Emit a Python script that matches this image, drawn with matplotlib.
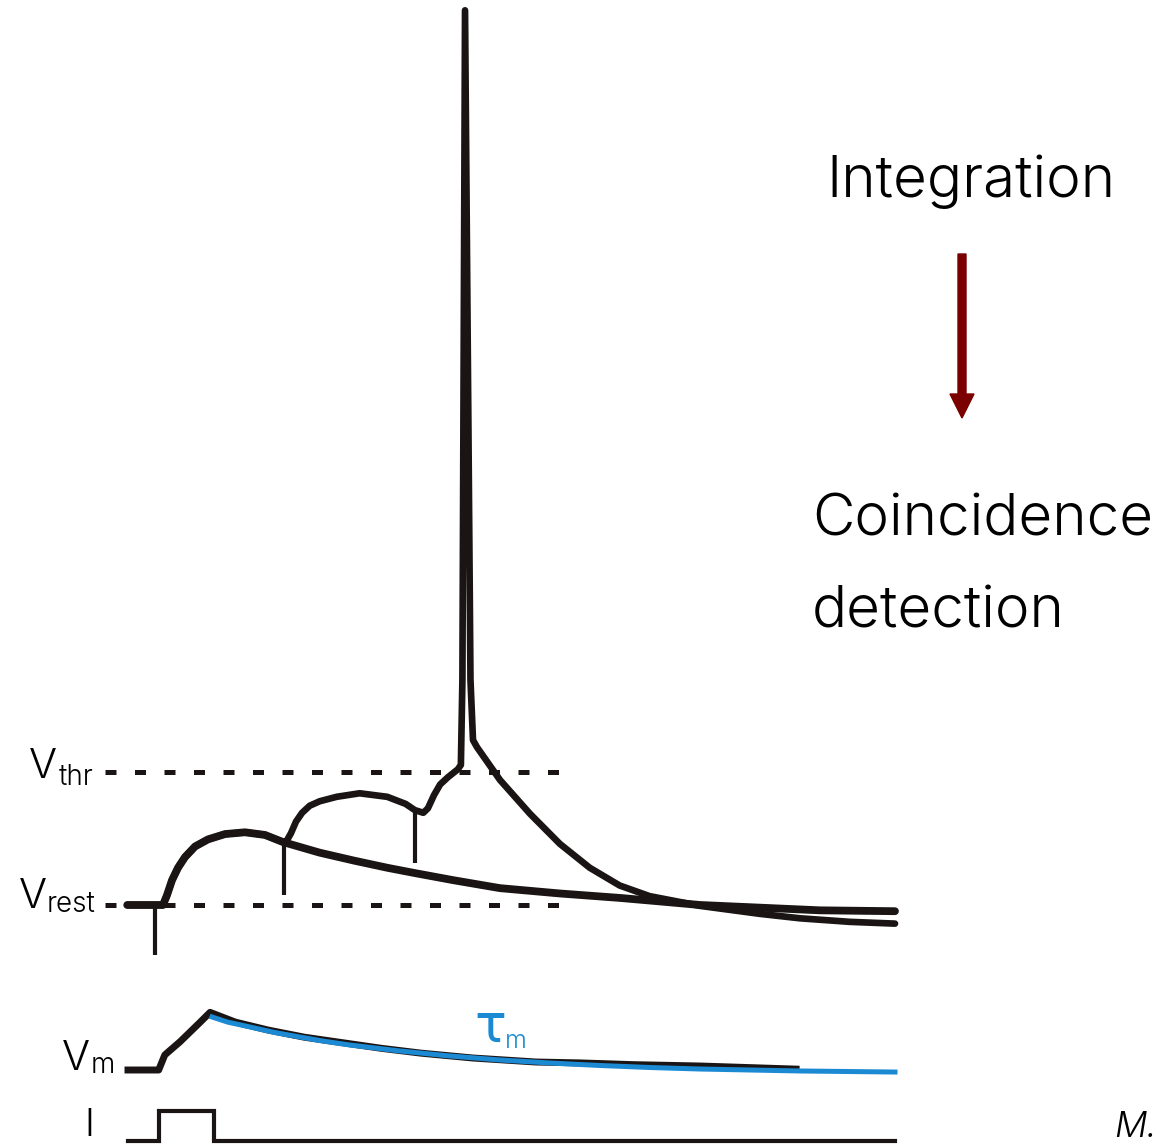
import numpy as np
import matplotlib
matplotlib.use("Agg")
import matplotlib.pyplot as plt

W, H = 1164, 1144

# time axis in ms, voltages in mV
# single EPSP trace
epsp_t = [-0.1, 3.3, 3.5, 3.8, 4.56, 5.08, 5.74, 6.52, 7.43, 8.74, 10.43, 12.65, 15.25,
          17.86, 20.2, 25.0, 29.5, 33.8, 37.4, 42.4, 48.5, 56.3, 64.1, 69.4, 74.6, 82.4,
          90.2, 100.0]
epsp_v = [-70.0, -70.0, -70.0, -70.0, -70.0, -68.9, -67.2, -65.8, -64.6, -63.4, -62.6,
          -62.0, -61.8, -62.1, -62.9, -64.1, -65.0, -65.8, -66.4, -67.2, -68.1, -68.7,
          -69.2, -69.6, -70.0, -70.3, -70.6, -70.7]

# trace with three coincident inputs -> spike
spike_t = [-0.1, 3.5, 4.56, 5.08, 5.74, 6.52, 7.43, 8.74, 10.43, 12.65, 15.25, 17.86,
           20.2, 20.6, 21.25, 21.9, 22.7, 23.7, 25.0, 27.2, 30.2, 33.8, 36.2, 37.4, 38.5,
           39.1, 39.9, 40.7, 41.7, 43.0, 43.4, 43.6, 43.94, 44.65, 44.98, 45.5, 48.5,
           52.4, 56.3, 60.2, 64.1, 68.0, 74.6, 82.4, 87.6, 94.1, 100.0]
spike_v = [-70.0, -70.0, -70.0, -68.9, -67.2, -65.8, -64.6, -63.4, -62.6, -62.0, -61.8,
           -62.1, -62.9, -62.9, -61.9, -60.6, -59.6, -58.8, -58.3, -57.8, -57.4, -57.8,
           -58.6, -59.3, -59.6, -59.1, -57.6, -56.4, -55.6, -54.7, -54.2, -44.6, 30.9,
           -44.6, -51.4, -52.2, -55.9, -59.7, -63.1, -65.8, -67.8, -69.0, -70.1, -71.0,
           -71.5, -71.9, -72.1]

# stimulus artifacts
stim_t = [3.5, 20.3, 37.4]
stim_top = [-70.0, -62.9, -59.6]
stim_bottom = [-75.6, -68.9, -65.3]

v_rest = -70.0
v_thr = -55.0
ref_t = [-3.0, 57.0]

# passive response to a current step (mV relative to rest)
vm_t = [0.0, 4.0, 4.8, 6.8, 9.3, 10.7, 14.0, 18.3, 23.0, 28.2, 33.0, 38.2, 45.0, 53.2,
        58.9, 66.0, 74.6, 87.1]
vm_v = [0.0, 0.0, 1.7, 3.2, 5.3, 6.5, 5.4, 4.5, 3.7, 3.05, 2.45, 1.9, 1.35, 0.9, 0.8,
        0.6, 0.45, 0.1]
fit_t = [10.95, 13.0, 15.9, 19.0, 22.4, 25.5, 28.9, 35.5, 42.0, 48.5, 55.0, 61.5, 68.1,
         74.6, 81.1, 87.6, 100.0]
fit_v = [5.98, 5.4, 4.85, 4.25, 3.72, 3.25, 2.82, 2.14, 1.58, 1.13, 0.79, 0.51, 0.28,
         0.11, 0.0, -0.11, -0.23]

# injected current (nA)
i_t = [0.0, 4.0, 11.2, 100.0]
i_amp = [0.0, 1.0, 0.0, 0.0]

BLACK = "#1a1414"
BLUE = "#1b8ad3"
RED = "#7b0000"

fig = plt.figure(figsize=(W / 100, H / 100), dpi=100)

# px <-> data scales
xlim = (-128 / 7.67, (W - 128) / 7.67)


def full_axes(ylim):
    ax = fig.add_axes([0, 0, 1, 1])
    ax.set_xlim(*xlim)
    ax.set_ylim(*ylim)
    ax.axis("off")
    ax.patch.set_alpha(0)
    return ax


ax_v = full_axes((-70 - (H - 905) / 8.867, -70 + 905 / 8.867))
ax_m = full_axes(((1070 - H) / 8.867, 1070 / 8.867))
ax_i = full_axes(((1141 - H) / 30, 1141 / 30))

# reference levels
for lvl in (v_thr, v_rest):
    ax_v.plot(ref_t, [lvl, lvl], color=BLACK, lw=3.6, dashes=(2.2, 3.7),
              dash_capstyle="butt", zorder=1)

ax_v.vlines(stim_t, stim_bottom, stim_top, color=BLACK, lw=3.0, zorder=2)
ax_v.plot(epsp_t, epsp_v, color=BLACK, lw=5.6, solid_joinstyle="round",
          solid_capstyle="round", zorder=3)
ax_v.plot(spike_t, spike_v, color=BLACK, lw=4.8, solid_joinstyle="round",
          solid_capstyle="round", zorder=3)

ax_m.plot(vm_t, vm_v, color=BLACK, lw=5.0, solid_joinstyle="round")
ax_m.plot(fit_t, fit_v, color=BLUE, lw=3.6)

ax_i.plot(i_t, i_amp, color=BLACK, lw=3.0, drawstyle="steps-post",
          solid_joinstyle="miter")


def px_text(x, y, s, size, **kw):
    fig.text(x / W, 1 - y / H, s, fontsize=size, ha="left", va="baseline", **kw)


lab = dict(family="Inter", fontweight=300, color="black")
px_text(29, 778, "V", 30, **lab)
px_text(59, 785, "thr", 20, **lab)
px_text(19, 908, "V", 30, **lab)
px_text(47, 912, "rest", 20, **lab)
px_text(62, 1070, "V", 30, **lab)
px_text(91, 1073, "m", 20, **lab)
px_text(84, 1136, "I", 27, **lab)
px_text(1114, 1137, "M.", 26, family="Inter", fontweight=300, style="italic")

px_text(474, 1042, "τ", 38, family="DejaVu Sans", color=BLUE)
px_text(505, 1048, "m", 18, family="Inter", fontweight=300, color=BLUE)

big = dict(family="Inter", fontweight=300, color="black")
px_text(826, 197, "Integration", 42, **big)
px_text(812, 535, "Coincidence", 42, **big)
px_text(812, 627, "detection", 42, **big)

fig.patches.append(matplotlib.patches.FancyArrow(
    962 / W, 1 - 254 / H, 0, -(418 - 254) / H, width=8 / W, head_width=24 / W,
    head_length=24 / H, length_includes_head=True, color=RED,
    transform=fig.transFigure, figure=fig))

fig.savefig("out.png", dpi=100)
